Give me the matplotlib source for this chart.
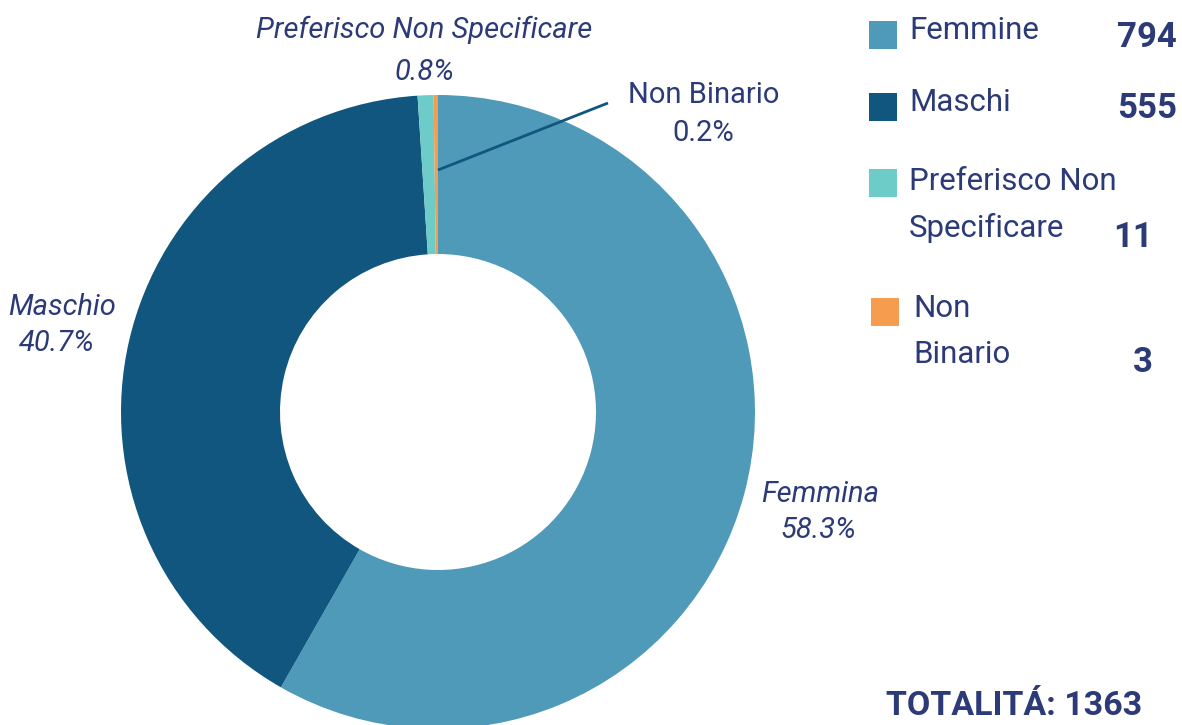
import matplotlib
matplotlib.use("Agg")
import matplotlib.pyplot as plt

categories = ["Femmina", "Maschio", "Preferisco Non Specificare", "Non Binario"]
values = [794, 555, 11, 3]
legend_labels = ["Femmine", "Maschi", "Preferisco Non\nSpecificare", "Non\nBinario"]
colors = ["#4E9AB8", "#10567F", "#6DCBC8", "#F59C4E"]
total_label = "TOTALITÁ"

TXT = "#2C3B78"
plt.rcParams['font.family'] = ['Roboto', 'DejaVu Sans']

W, H = 1182, 725
fig = plt.figure(figsize=(W / 100, H / 100), dpi=100)
ax = fig.add_axes([0, 0, 1, 1])
ax.set_xlim(0, W)
ax.set_ylim(0, H)
ax.set_aspect('equal')
ax.axis('off')

def Y(y):
    return H - y

cx, cy, R, r_in = 438, 412, 317, 158
ax.pie(values, colors=colors, startangle=90, counterclock=False,
       center=(cx, Y(cy)), radius=R, frame=True,
       wedgeprops=dict(width=R - r_in, linewidth=0, antialiased=True))
ax.set_xlim(0, W)
ax.set_ylim(0, H)
ax.axis('off')

tot = sum(values)
pct = [f"{v / tot * 100:.1f}%" for v in values]

fs = 21
lfs = 22.5
# data labels
ax.text(62, Y(307), categories[1], ha='center', va='center', fontsize=fs, color=TXT, style='italic')
ax.text(57, Y(343), pct[1], ha='center', va='center', fontsize=fs, color=TXT, style='italic')
ax.text(820, Y(494), categories[0], ha='center', va='center', fontsize=fs, color=TXT, style='italic')
ax.text(818, Y(530), pct[0], ha='center', va='center', fontsize=fs, color=TXT, style='italic')
ax.text(424, Y(30), categories[2], ha='center', va='center', fontsize=fs, color=TXT, style='italic')
ax.text(424, Y(72), pct[2], ha='center', va='center', fontsize=fs, color=TXT, style='italic')
ax.text(704, Y(95), categories[3], ha='center', va='center', fontsize=fs, color=TXT)
ax.text(703, Y(133), pct[3], ha='center', va='center', fontsize=fs, color=TXT)
ax.plot([438, 608], [Y(170), Y(103)], color="#10567F", lw=2, solid_capstyle='butt')

# legend
sq = 28
leg_sq_y = [21, 93, 169, 298]
leg_sq_x = [869, 869, 869, 871]
leg_text_y = [(30,), (102,), (181, 228), (308, 354)]
leg_text_x = [909, 909, 909, 913]
num_x = [1177, 1177, 1153, 1153]
num_y = [37, 108, 237, 362]
for i in range(4):
    ax.add_patch(plt.Rectangle((leg_sq_x[i], Y(leg_sq_y[i] + sq)), sq, sq,
                               facecolor=colors[i], edgecolor='none'))
    lines = legend_labels[i].split("\n")
    for line, ty in zip(lines, leg_text_y[i]):
        ax.text(leg_text_x[i], Y(ty), line, ha='left', va='center', fontsize=lfs, color=TXT)
    ax.text(num_x[i], Y(num_y[i]), f"{values[i]}", ha='right', va='center',
            fontsize=25, fontweight='bold', color=TXT)

ax.text(1142, Y(706), f"{total_label}: {tot}", ha='right', va='center',
        fontsize=24.5, fontweight='bold', color=TXT)

fig.savefig("out.png", dpi=100, facecolor='white')
